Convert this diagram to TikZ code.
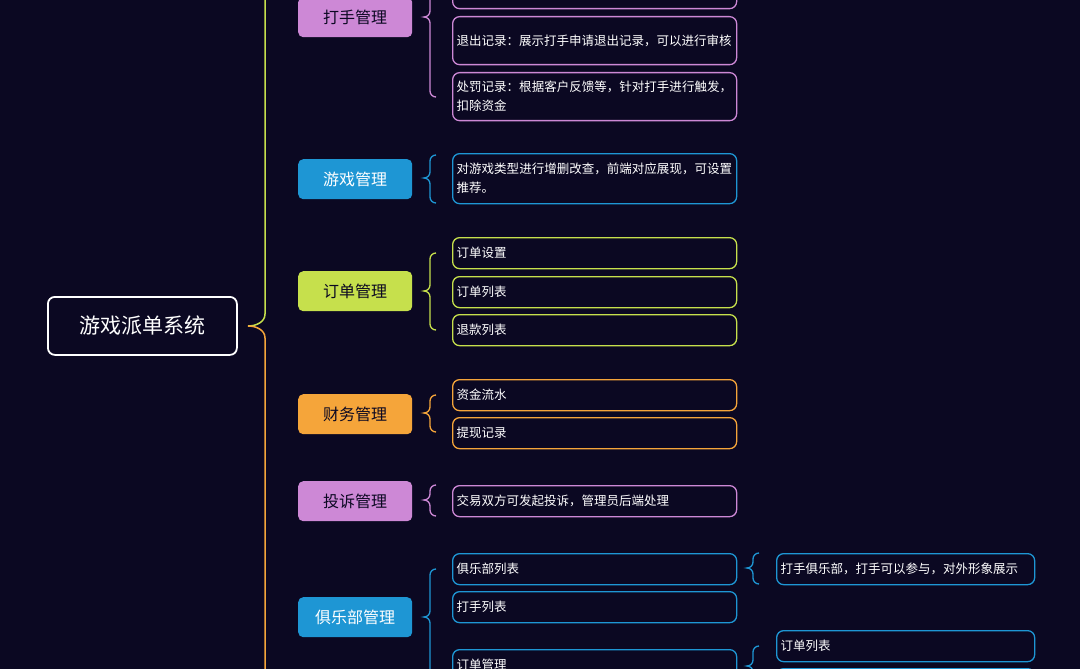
\documentclass[tikz,border=0pt]{standalone}
\usepackage{fontspec}
\setmainfont{Noto Sans CJK SC}
\XeTeXlinebreaklocale "zh"
\XeTeXlinebreakskip=0pt plus 1pt
\definecolor{bg}{HTML}{0B0822}
\definecolor{cpur}{HTML}{CD88D6}
\definecolor{cblu}{HTML}{1E96D4}
\definecolor{clim}{HTML}{C6E04C}
\definecolor{cora}{HTML}{F5A53A}
\newcommand\mybrace[5]{\draw[#5,line width=1.3pt] (#1+10,#2) to[out=180,in=90] (#1+4,#2+6) -- (#1+4,#3-6) to[out=-90,in=0] (#1-2,#3) to[out=0,in=90] (#1+4,#3+6) -- (#1+4,#4-6) to[out=-90,in=180] (#1+10,#4);}
\tikzset{
 cat/.style={rounded corners=5pt,fill=#1,minimum width=114pt,minimum height=40pt,anchor=north west,font=\fontsize{16}{18}\selectfont,inner sep=0pt},
 leaf/.style={rounded corners=7pt,draw=#1,line width=1.3pt,fill=bg,text=white,minimum width=284pt,minimum height=31pt,anchor=north west,text width=276pt,align=left,font=\fontsize{12.5}{19}\selectfont,inner sep=4pt},
 rleaf/.style={leaf=#1,minimum width=257pt,text width=250pt},
}
\begin{document}
\begin{tikzpicture}[x=1pt,y=-1pt]
\fill[bg] (0,0) rectangle (1080,669);
\useasboundingbox (0,0) rectangle (1080,669);
% trunk
\draw[clim,line width=1.5pt] (265,-5) -- (265,314) to[out=90+180,in=0] (248,326);
\draw[cora,line width=1.5pt] (248,326) to[out=0,in=90] (265,338) -- (265,675);
\node[draw=white,line width=1.8pt,rounded corners=7pt,fill=bg,text=white,minimum width=189pt,minimum height=58pt,anchor=north west,font=\fontsize{21}{24}\selectfont] (root) at (47,296) {游戏派单系统};
% categories
\node[cat=cpur,text=bg] (c1) at (298,-3) {打手管理};
\node[cat=cblu,text=white] (c2) at (298,159) {游戏管理};
\node[cat=clim,text=bg] (c3) at (298,271) {订单管理};
\node[cat=cora,text=bg] (c4) at (298,394) {财务管理};
\node[cat=cpur,text=bg] (c5) at (298,481) {投诉管理};
\node[cat=cblu,text=white] (c6) at (298,597) {俱乐部管理};
% leaves
\node[leaf=cpur,minimum height=31pt] (l0) at (452,-23) {};
\node[leaf=cpur,minimum height=48pt] (l1) at (452,16) {退出记录：展示打手申请退出记录，可以进行审核};
\node[leaf=cpur,minimum height=48pt] (l2) at (452,72) {处罚记录：根据客户反馈等，针对打手进行触发，扣除资金};
\node[leaf=cblu,minimum height=50pt] (l3) at (452,153) {对游戏类型进行增删改查，前端对应展现，可设置推荐。};
\node[leaf=clim] (l4) at (452,237) {订单设置};
\node[leaf=clim] (l5) at (452,276) {订单列表};
\node[leaf=clim] (l6) at (452,314) {退款列表};
\node[leaf=cora] (l7) at (452,379) {资金流水};
\node[leaf=cora] (l8) at (452,417) {提现记录};
\node[leaf=cpur] (l9) at (452,485) {交易双方可发起投诉，管理员后端处理};
\node[leaf=cblu] (l10) at (452,553) {俱乐部列表};
\node[leaf=cblu] (l11) at (452,591) {打手列表};
\node[leaf=cblu] (l12) at (452,649) {订单管理};
\node[rleaf=cblu] (r1) at (776,553) {打手俱乐部，打手可以参与，对外形象展示};
\node[rleaf=cblu] (r2) at (776,630) {订单列表};
\node[rleaf=cblu] (r3) at (776,668) {};
% braces
\mybrace{426}{-20}{17}{97}{cpur}
\mybrace{426}{155}{178}{203}{cblu}
\mybrace{426}{253}{291}{330}{clim}
\mybrace{426}{395}{413}{432}{cora}
\mybrace{426}{485}{500}{516}{cpur}
\mybrace{426}{569}{617}{690}{cblu}
\mybrace{749}{553}{568}{584}{cblu}
\mybrace{749}{646}{666}{690}{cblu}
\end{tikzpicture}
\end{document}
